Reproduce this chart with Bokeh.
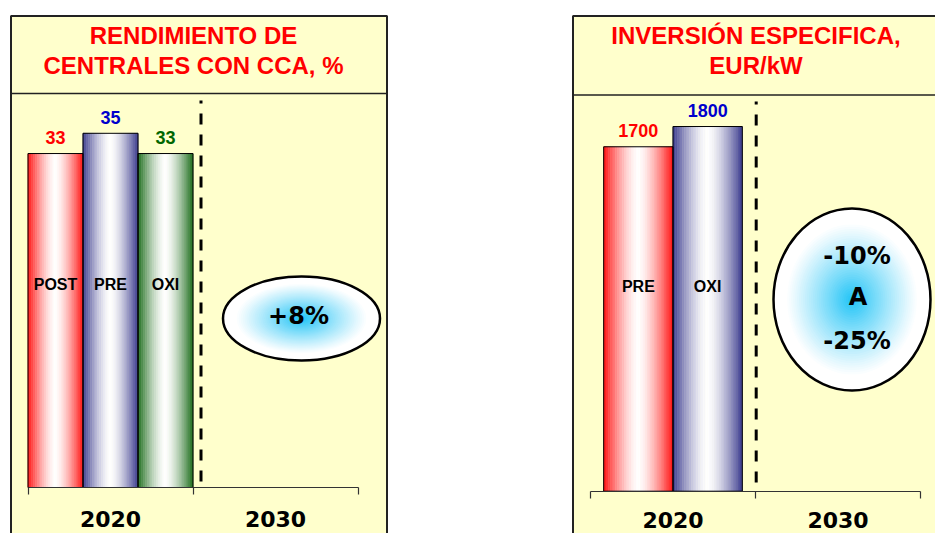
from bokeh.plotting import figure
from bokeh.models import Range1d, LinearAxis, FixedTicker
from bokeh.core.properties import value
from bokeh.embed import file_html
from bokeh.resources import INLINE

# ---------------- data ----------------
eff_title = ["RENDIMIENTO DE", "CENTRALES CON CCA, %"]
eff_categories = ["2020", "2030"]
eff_series = ["POST", "PRE", "OXI"]
eff_values = [33, 35, 33]
eff_edge_colors = ["#FF1010", "#3A3A8E", "#1A6B1A"]
eff_label_colors = ["#FF0000", "#0000CC", "#006600"]
eff_note = ["+8%"]

inv_title = ["INVERSIÓN ESPECIFICA,", "EUR/kW"]
inv_categories = ["2020", "2030"]
inv_series = ["PRE", "OXI"]
inv_values = [1700, 1800]
inv_edge_colors = ["#FF1010", "#3A3A8E"]
inv_label_colors = ["#FF0000", "#0000CC"]
inv_note = ["-10%", "A", "-25%"]

# ---------------- layout constants (pixels) ----------------
W, H = 935, 533
PANEL_BG = "#FFFFCC"
LINE = "#222222"
L_PX_PER_UNIT = 10.12      # left panel: pixels per % point
R_PX_PER_UNIT = 0.2026     # right panel: pixels per EUR/kW
LABEL_GAP_PX = 16          # gap between bar top and value label anchor

p = figure(width=W, height=H, x_range=Range1d(0, W), y_range=Range1d(H, 0),
           x_axis_type=None, y_axis_type=None, toolbar_location=None,
           output_backend="svg", min_border=0, outline_line_color=None,
           background_fill_color="white", border_fill_color="white")

# data ranges for each panel (category i spans [i, i+1])
p.extra_x_ranges = {
    "xl": Range1d(-27.5 / 165.0, (W - 27.5) / 165.0),
    "xr": Range1d(-590.0 / 165.0, (W - 590.0) / 165.0),
}
p.extra_y_ranges = {
    "yl": Range1d(-(H - 487.0) / L_PX_PER_UNIT, 487.0 / L_PX_PER_UNIT),
    "yr": Range1d(-(H - 490.7) / R_PX_PER_UNIT, 490.7 / R_PX_PER_UNIT),
}

# ---------------- panels ----------------
p.quad(left=[10, 572], right=[387, 960], top=[15, 15], bottom=[600, 600],
       fill_color=PANEL_BG, line_color=None)
p.multi_line(xs=[[10.5, 10.5, 386.5, 386.5], [572.5, 572.5, 960]],
             ys=[[600, 15.5, 15.5, 600], [600, 15.5, 15.5]],
             line_color=LINE, line_width=2)
p.segment(x0=[10.5, 572.5], y0=[93, 94.5], x1=[386.5, 960], y1=[93, 94.5],
          line_color=LINE, line_width=1.6)


def mix(c, t):
    r, g, b = int(c[1:3], 16), int(c[3:5], 16), int(c[5:7], 16)
    return "#%02x%02x%02x" % (round(255 + (r - 255) * t),
                              round(255 + (g - 255) * t),
                              round(255 + (b - 255) * t))


def gradient_bars(xname, yname, centers, width, values, colors, n=30):
    xs, ws, tops, fills = [], [], [], []
    for cx, v, c in zip(centers, values, colors):
        for k in range(n):
            u = (k + 0.5) / n
            d = abs(2 * u - 1)
            t = min(1.0, d ** 1.5)
            xs.append(cx - width / 2 + u * width)
            ws.append(width / n)
            tops.append(v)
            fills.append(mix(c, t))
    p.vbar(x=xs, width=ws, top=tops, bottom=0, fill_color=fills, line_color=fills,
           line_width=0.6, x_range_name=xname, y_range_name=yname)
    p.vbar(x=centers, width=width, top=values, bottom=0, fill_color=None,
           line_color="black", line_width=1, x_range_name=xname, y_range_name=yname)


def gradient_ellipse(cx, cy, w, h, n=40):
    xs, ys, ws, hs, fills = [], [], [], [], []
    for k in range(n):
        s = 1 - k / n
        t = max(0.0, 1 - s / 0.85) ** 1.1
        xs.append(cx); ys.append(cy); ws.append(w * s); hs.append(h * s)
        fills.append(mix("#1EC3F6", t))
    p.ellipse(x=xs, y=ys, width=ws, height=hs, fill_color=fills, line_color=None)
    p.ellipse(x=[cx], y=[cy], width=[w], height=[h], fill_color=None,
              line_color="black", line_width=2.5)


# ---------------- left panel: efficiency ----------------
n_l = len(eff_series)
wl = 1.0 / n_l
cl = [(i + 0.5) * wl for i in range(n_l)]
gradient_bars("xl", "yl", cl, wl, eff_values, eff_edge_colors)
p.text(x=cl, y=[v + LABEL_GAP_PX / L_PX_PER_UNIT for v in eff_values],
       text=[str(v) for v in eff_values], x_range_name="xl",
       y_range_name="yl", text_color=eff_label_colors, text_font=value("Liberation Sans"),
       text_font_style="bold", text_font_size="18px", text_align="center",
       text_baseline="middle")
p.text(x=cl, y=[284] * n_l, text=eff_series, x_range_name="xl",
       text_color="black", text_font=value("Liberation Sans"), text_font_style="bold",
       text_font_size="16px", text_align="center", text_baseline="middle")

# ---------------- right panel: investment ----------------
n_r = len(inv_series)
wr = 0.42
cr = [0.5 + (i - (n_r - 1) / 2) * wr for i in range(n_r)]
gradient_bars("xr", "yr", cr, wr, inv_values, inv_edge_colors)
p.text(x=cr, y=[v + LABEL_GAP_PX / R_PX_PER_UNIT for v in inv_values],
       text=[str(v) for v in inv_values], x_range_name="xr",
       y_range_name="yr", text_color=inv_label_colors, text_font=value("Liberation Sans"),
       text_font_style="bold", text_font_size="18px", text_align="center",
       text_baseline="middle")
p.text(x=cr, y=[285.5] * n_r, text=inv_series, x_range_name="xr",
       text_color="black", text_font=value("Liberation Sans"), text_font_style="bold",
       text_font_size="16px", text_align="center", text_baseline="middle")

# ---------------- separators ----------------
p.segment(x0=[200.5, 755.7], y0=[100, 101], x1=[200.5, 755.7], y1=[489, 491],
          line_color="black", line_width=3, line_dash="11 10", line_dash_offset=8)

# ---------------- callouts ----------------
gradient_ellipse(301, 318, 157, 84)
gradient_ellipse(851.5, 299, 157, 182)
p.text(x=[298], y=[315], text=eff_note, text_color="black",
       text_font=value("DejaVu Sans"), text_font_style="bold", text_font_size="24px",
       text_align="center", text_baseline="middle")
p.text(x=[856.5, 857.5, 856.5], y=[255, 296, 340], text=inv_note, text_color="black",
       text_font=value("DejaVu Sans"), text_font_style="bold", text_font_size="24px",
       text_align="center", text_baseline="middle")

# ---------------- titles ----------------
p.text(x=[193, 193], y=[35, 64.5], text=eff_title, text_color="#FF0000",
       text_font=value("Liberation Sans"), text_font_style="bold", text_font_size="24px",
       text_align="center", text_baseline="middle")
p.text(x=[755.5, 755.5], y=[35, 65], text=inv_title, text_color="#FF0000",
       text_font=value("Liberation Sans"), text_font_style="bold", text_font_size="24px",
       text_align="center", text_baseline="middle")

# ---------------- category axes ----------------
for xname, yname, cats, standoff in (("xl", "yl", eff_categories, 16),
                                     ("xr", "yr", inv_categories, 14)):
    nc = len(cats)
    ax = LinearAxis(x_range_name=xname, y_range_name=yname, fixed_location=0,
                    bounds=(0, nc),
                    ticker=FixedTicker(ticks=[i + 0.5 for i in range(nc)],
                                       minor_ticks=list(range(nc + 1))),
                    major_label_overrides={i + 0.5: c for i, c in enumerate(cats)})
    ax.axis_line_color = "#333333"
    ax.axis_line_width = 1.2
    ax.major_tick_line_color = None
    ax.major_tick_in = 0
    ax.major_tick_out = 0
    ax.minor_tick_line_color = "#333333"
    ax.minor_tick_line_width = 1.2
    ax.minor_tick_in = 0
    ax.minor_tick_out = 7
    ax.major_label_text_font = "DejaVu Sans"
    ax.major_label_text_font_style = "bold"
    ax.major_label_text_font_size = "22px"
    ax.major_label_text_color = "black"
    ax.major_label_standoff = standoff
    p.add_layout(ax, "below")

open("out.html", "w").write(file_html(p, INLINE))
